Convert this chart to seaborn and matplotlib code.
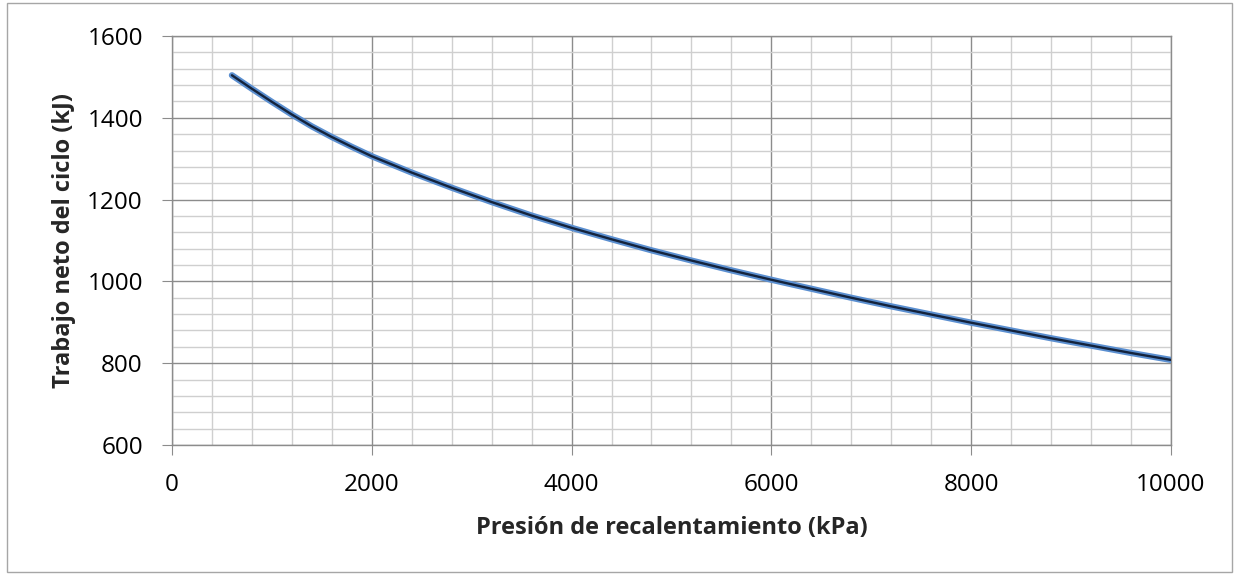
import matplotlib
matplotlib.use("Agg")
import matplotlib.pyplot as plt
import numpy as np
import pandas as pd
import seaborn as sns
from matplotlib.patches import Rectangle
from matplotlib.ticker import MultipleLocator

sns.set_style("white")
plt.rcParams["font.family"] = ["Open Sans", "DejaVu Sans"]

# reheat pressure (kPa) vs net cycle work (kJ)
presion = [600, 800, 1000, 1200, 1400, 1600, 1800, 2000, 2400, 2800, 3200,
           3600, 4000, 4400, 4800, 5200, 5600, 6000, 6400, 6800, 7200,
           7600, 8000, 8400, 8800, 9200, 9600, 10000]
trabajo = [1504, 1471, 1439, 1408, 1379, 1353, 1329, 1306, 1266, 1229, 1194,
           1161, 1131, 1103, 1076, 1051, 1027, 1004, 982, 960, 939,
           919, 899, 880, 861, 843, 825, 808]

data = pd.DataFrame({"presion": presion, "trabajo": trabajo})

fig = plt.figure(figsize=(12.39, 5.75), dpi=100)
ax = fig.add_axes([0.1388, 0.2261, 0.8063, 0.7113])

major_color = "#8c8c8c"
minor_color = "#cfcfcf"

ax.set_xlim(0, 10000)
ax.set_ylim(600, 1600)
ax.xaxis.set_major_locator(MultipleLocator(2000))
ax.xaxis.set_minor_locator(MultipleLocator(400))
ax.yaxis.set_major_locator(MultipleLocator(200))
ax.yaxis.set_minor_locator(MultipleLocator(40))
ax.grid(which="minor", color=minor_color, linewidth=1.0, zorder=0)
ax.grid(which="major", color=major_color, linewidth=1.0, zorder=0)
ax.set_axisbelow(True)

sns.lineplot(data=data, x="presion", y="trabajo", ax=ax, color="#5b8fd0",
             linewidth=4.5, zorder=3)
sns.lineplot(data=data, x="presion", y="trabajo", ax=ax, color="#14233c",
             linewidth=1.7, zorder=4)

for side in ax.spines.values():
    side.set_color(major_color)
    side.set_linewidth(1.0)

ax.tick_params(axis="both", which="major", direction="out", length=7,
               color=major_color, labelsize=17.5, labelcolor="black")
ax.tick_params(axis="both", which="minor", length=0)
ax.tick_params(axis="y", pad=14)
ax.tick_params(axis="x", pad=13)
ax.tick_params(left=True, bottom=True)

ax.set_xlabel("Presión de recalentamiento (kPa)", fontsize=17,
              fontweight="bold", labelpad=14)
ax.set_ylabel("Trabajo neto del ciclo (kJ)", fontsize=17,
              fontweight="bold", labelpad=8)

fig.patches.append(Rectangle((0.006, 0.005), 0.988, 0.99, transform=fig.transFigure,
                             fill=False, edgecolor="#a6a6a6", linewidth=1.0))

fig.savefig("out.png", dpi=100)
